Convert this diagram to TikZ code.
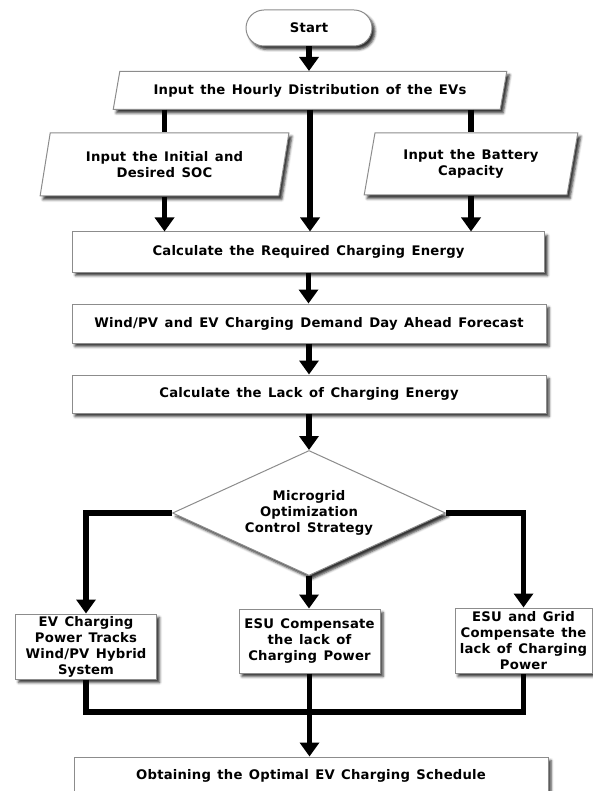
\documentclass[tikz,border=0pt]{standalone}
\usepackage{fontspec}
\setmainfont[LetterSpace=1.5, WordSpace=1.35]{DejaVu Sans}
\usetikzlibrary{arrows.meta, positioning, shapes.geometric, shapes.misc, shadows.blur}
\definecolor{cedge}{HTML}{8C8C8C}
\definecolor{cline}{HTML}{000000}
\tikzset{
  every picture/.style={x=1pt, y=-1pt, font=\bfseries\fontsize{13.2}{16}\selectfont},
  box/.style={draw=cedge, fill=white, line width=1pt, align=center, inner sep=1pt,
    blur shadow={shadow xshift=3pt, shadow yshift=-3.5pt, shadow blur radius=2.5pt, shadow opacity=80}},
  io/.style={box, trapezium, trapezium left angle=76, trapezium right angle=104, trapezium stretches=true},
  arrow/.style={-{Triangle[width=19pt, length=14pt]}, draw=cline, line width=5.5pt},
  link/.style={draw=cline, line width=5.5pt},
}
\begin{document}
\begin{tikzpicture}
  \useasboundingbox (0,0) rectangle (593,791);
  \clip (0,0) rectangle (593,791);
  % inputs
  \node[box, rounded rectangle, minimum width=128pt, minimum height=36pt] (start) at (309,28) {Start};
  \node[io, trapezium left angle=70, trapezium right angle=110, minimum width=394pt, minimum height=38pt] (hourly) at (310,90.5) {Input the Hourly Distribution of the EVs};
  \node[io, minimum width=249pt, minimum height=63pt] (soc) at (164.5,164.5) {Input the Initial and\\Desired SOC};
  \node[io, minimum width=214pt, minimum height=62pt] (batt) at (471,164) {Input the Battery\\Capacity};
  % energy and forecast
  \node[box, minimum width=472pt, minimum height=40pt] (calc) at (308.5,252) {Calculate the Required Charging Energy};
  \node[box, minimum width=474pt, minimum height=39pt] (wind) at (309,323.5) {Wind/PV and EV Charging Demand Day Ahead Forecast};
  \node[box, minimum width=474pt, minimum height=38pt] (lack) at (309,394) {Calculate the Lack of Charging Energy};
  \node[box, diamond, shape aspect=2.2, inner sep=0pt, minimum width=273pt, minimum height=125pt] (mg) at (309,513) {Microgrid\\Optimization\\Control Strategy};
  % strategies
  \node[box, minimum width=141pt, minimum height=65pt] (evt) at (86,646.5) {EV Charging\\Power Tracks\\Wind/PV Hybrid\\System};
  \node[box, minimum width=141pt, minimum height=64pt] (esu) at (309.5,641) {ESU Compensate\\the lack of\\Charging Power};
  \node[box, minimum width=137pt, minimum height=65pt] (esg) at (523.5,640.5) {ESU and Grid\\Compensate the\\lack of Charging\\Power};
  \node[box, minimum width=474pt, minimum height=38pt] (obt) at (311,776) {Obtaining the Optimal EV Charging Schedule};
  \coordinate (join) at (309.5,712);
  % connectors
  \draw[arrow] (start.south) -- (hourly.north -| start.south);
  \draw[link] (hourly.south -| soc.north) -- (soc.north);
  \draw[link] (hourly.south -| batt.north) -- (batt.north);
  \draw[arrow] (hourly.south) -- (hourly.south |- calc.north);
  \foreach \k in {soc, batt} {
    \draw[arrow] (\k.south) -- (\k.south |- calc.north);
  }
  \foreach \a/\b in {calc/wind, wind/lack, lack/mg, mg/esu} {
    \draw[arrow] (\a.south) -- (\a.south |- \b.north);
  }
  \draw[arrow] (mg.west) -| (evt.north);
  \draw[arrow] (mg.east) -| (esg.north);
  \draw[link] (evt.south) |- (join) -| (esg.south);
  \draw[arrow] (esu.south) -- (esu.south |- obt.north);
\end{tikzpicture}
\end{document}
